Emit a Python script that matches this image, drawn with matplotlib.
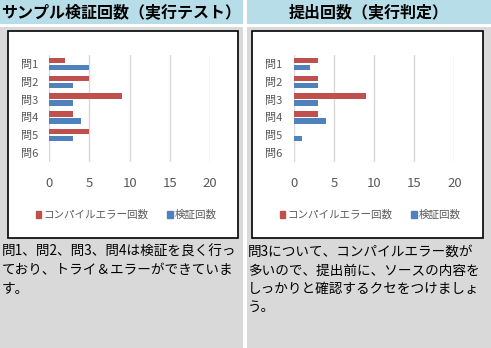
import matplotlib
matplotlib.use('Agg')
import matplotlib.pyplot as plt
from matplotlib.patches import Rectangle, Patch

plt.rcParams['font.family'] = ['Noto Sans CJK JP', 'DejaVu Sans']

# data
questions = ['問1', '問2', '問3', '問4', '問5', '問6']
left_errors = [2, 5, 9, 3, 5, 0]
left_checks = [5, 3, 3, 4, 3, 0]
right_errors = [3, 3, 9, 3, 0, 0]
right_checks = [2, 3, 3, 4, 1, 0]
x_ticks = [0, 5, 10, 15, 20]
series_names = ['コンパイルエラー回数', '検証回数']
titles = ['サンプル検証回数（実行テスト）', '提出回数（実行判定）']
left_notes = ['問1、問2、問3、問4は検証を良く行っ',
              'ており、トライ＆エラーができていま',
              'す。']
right_notes = ['問3について、コンパイルエラー数が',
               '多いので、提出前に、ソースの内容を',
               'しっかりと確認するクセをつけましょ',
               'う。']

RED = '#c0504d'
BLUE = '#4f81bd'
GRAY_BG = '#d9d9d9'
TITLE_BG = '#b7dde8'
TXT = '#595959'

W, H = 491, 348
fig = plt.figure(figsize=(W / 100, H / 100), dpi=100)
fig.patch.set_facecolor('white')

# background layer in pixel coordinates
bg = fig.add_axes([0, 0, 1, 1])
bg.set_xlim(0, W)
bg.set_ylim(H, 0)
bg.axis('off')

panels = [(0, 243), (247, 491)]
boxes = [(8, 238), (252, 483)]
for (px0, px1), (bx0, bx1), title in zip(panels, boxes, titles):
    bg.add_patch(Rectangle((px0, 0), px1 - px0, 24, color=TITLE_BG, lw=0))
    bg.add_patch(Rectangle((px0, 27), px1 - px0, H - 27, color=GRAY_BG, lw=0))
    bg.add_patch(Rectangle((bx0, 31), bx1 - bx0, 207, facecolor='white',
                           edgecolor='black', lw=1.2))
    bg.text((px0 + px1) / 2, 12, title, ha='center', va='center',
            fontsize=11.5, fontweight='bold', color='black')

for notes, x0 in [(left_notes, 2), (right_notes, 248)]:
    for i, line in enumerate(notes):
        bg.text(x0, 252 + i * 18.3, line, ha='left', va='center',
                fontsize=9.8, color='black')


def draw_chart(x0, x1, errors, checks, legend_cx):
    y_top, y_bot = 55, 162
    ax = fig.add_axes([x0 / W, 1 - y_bot / H, (x1 - x0) / W, (y_bot - y_top) / H])
    ax.set_facecolor('none')
    pos = range(len(questions))
    ax.barh([p - 0.2 for p in pos], errors, height=0.3, color=RED, zorder=3)
    ax.barh([p + 0.2 for p in pos], checks, height=0.3, color=BLUE, zorder=3)
    ax.set_xlim(0, 20)
    ax.set_ylim(5.5, -0.5)
    ax.set_xticks(x_ticks)
    ax.set_yticks(list(pos))
    ax.set_yticklabels(questions)
    ax.grid(axis='x', color='#d9d9d9', lw=1, zorder=0)
    for s in ax.spines.values():
        s.set_visible(False)
    ax.tick_params(axis='y', length=0, pad=8, labelsize=8, labelcolor=TXT)
    ax.tick_params(axis='x', length=0, pad=11, labelsize=9.5, labelcolor=TXT)
    handles = [Patch(color=RED), Patch(color=BLUE)]
    fig.legend(handles, series_names, loc='center', ncol=2, frameon=False,
               bbox_to_anchor=(legend_cx / W, 1 - 215 / H),
               fontsize=7.6, labelcolor=TXT, handlelength=0.55, handleheight=0.55,
               handletextpad=0.15, columnspacing=1.8)


draw_chart(49.3, 210, left_errors, left_checks, 126)
draw_chart(293.7, 454.3, right_errors, right_checks, 370)

fig.savefig('out.png', dpi=100)
